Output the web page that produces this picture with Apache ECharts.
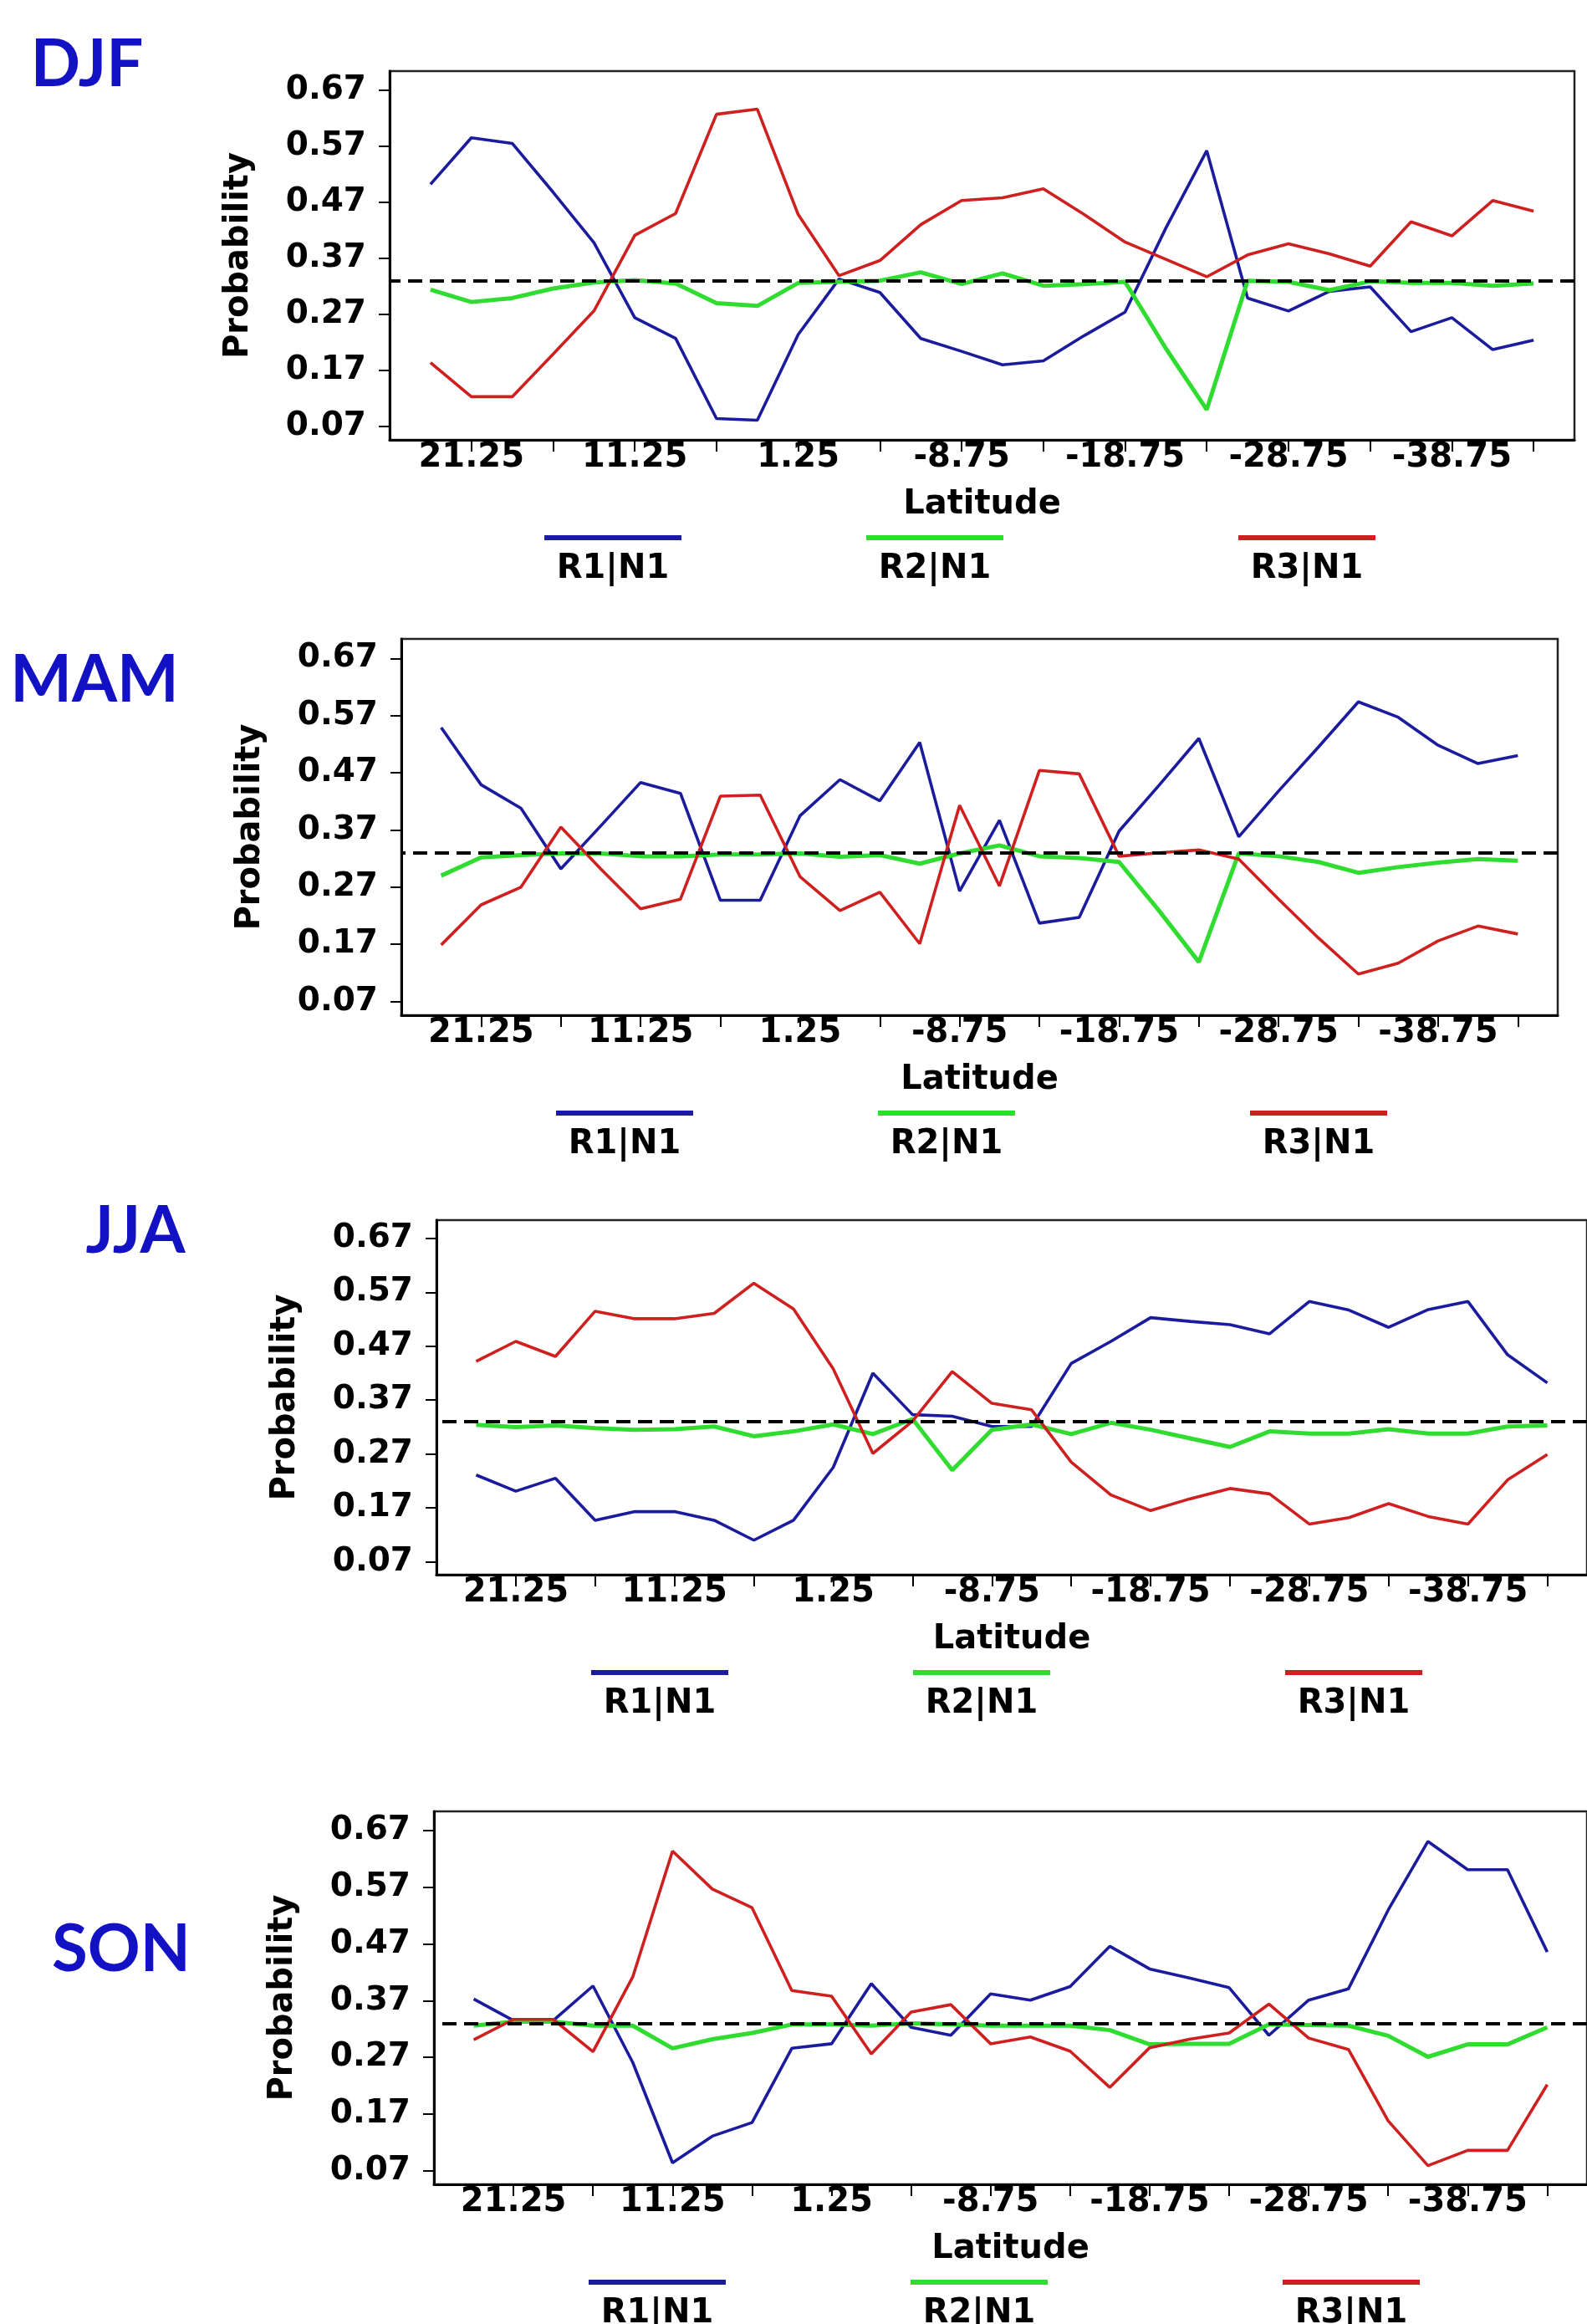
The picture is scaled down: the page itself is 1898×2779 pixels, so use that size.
<!DOCTYPE html>
<html>
<head>
<meta charset="utf-8">
<title>Probability by latitude</title>
<script src="https://cdn.jsdelivr.net/npm/echarts@6.0.0/dist/echarts.min.js"></script>
<style>
  html, body { margin: 0; padding: 0; background: #fff; }
  #chart { width: 1898px; height: 2779px; }
</style>
</head>
<body>
<div id="chart"></div>
<script>
// latitude of each point (north to south)
var latitudes = [23.75, 21.25, 18.75, 16.25, 13.75, 11.25, 8.75, 6.25, 3.75, 1.25, -1.25, -3.75, -6.25, -8.75,
  -11.25, -13.75, -16.25, -18.75, -21.25, -23.75, -26.25, -28.75, -31.25, -33.75, -36.25, -38.75, -41.25, -43.75]
var xTickValues = [21.25, 16.25, 11.25, 6.25, 1.25, -3.75, -8.75, -13.75, -18.75, -23.75, -28.75, -33.75, -38.75, -43.75]
var xLabelValues = [21.25, 11.25, 1.25, -8.75, -18.75, -28.75, -38.75]
var yTickValues = [0.07, 0.17, 0.27, 0.37, 0.47, 0.57, 0.67]
var seriesNames = ['R1|N1', 'R2|N1', 'R3|N1']
var chanceLevel = 1 / 3

var djfR1 = [0.502, 0.585, 0.575, 0.488, 0.398, 0.264, 0.227, 0.084, 0.081, 0.234, 0.333, 0.309, 0.227, 0.204,
  0.180, 0.187, 0.232, 0.274, 0.424, 0.562, 0.299, 0.276, 0.311, 0.319, 0.239, 0.264, 0.207, 0.224]
var djfR2 = [0.314, 0.292, 0.299, 0.316, 0.327, 0.331, 0.325, 0.290, 0.285, 0.326, 0.328, 0.330, 0.345, 0.324,
  0.343, 0.321, 0.324, 0.328, 0.209, 0.100, 0.330, 0.328, 0.313, 0.329, 0.326, 0.326, 0.321, 0.325]
var djfR3 = [0.184, 0.123, 0.123, 0.199, 0.276, 0.411, 0.450, 0.627, 0.636, 0.448, 0.339, 0.366, 0.430, 0.473,
  0.478, 0.494, 0.448, 0.399, 0.368, 0.337, 0.376, 0.396, 0.378, 0.356, 0.435, 0.410, 0.473, 0.454]

var mamR1 = [0.549, 0.449, 0.408, 0.302, 0.377, 0.453, 0.434, 0.247, 0.247, 0.395, 0.458, 0.421, 0.523, 0.263,
  0.387, 0.207, 0.217, 0.368, 0.448, 0.530, 0.358, 0.438, 0.515, 0.594, 0.567, 0.518, 0.486, 0.500]
var mamR2 = [0.290, 0.322, 0.326, 0.329, 0.329, 0.324, 0.324, 0.327, 0.327, 0.329, 0.323, 0.326, 0.311, 0.329,
  0.343, 0.324, 0.321, 0.314, 0.229, 0.139, 0.329, 0.324, 0.314, 0.295, 0.305, 0.313, 0.319, 0.316]
var mamR3 = [0.169, 0.239, 0.270, 0.375, 0.302, 0.232, 0.249, 0.429, 0.431, 0.288, 0.229, 0.261, 0.171, 0.413,
  0.272, 0.474, 0.468, 0.324, 0.330, 0.335, 0.319, 0.249, 0.181, 0.118, 0.137, 0.176, 0.202, 0.188]

var jjaR1 = [0.231, 0.201, 0.225, 0.147, 0.163, 0.163, 0.147, 0.110, 0.147, 0.245, 0.420, 0.343, 0.340, 0.321,
  0.321, 0.438, 0.479, 0.523, 0.516, 0.510, 0.493, 0.553, 0.537, 0.505, 0.538, 0.553, 0.454, 0.402]
var jjaR2 = [0.324, 0.320, 0.323, 0.318, 0.315, 0.316, 0.321, 0.303, 0.312, 0.325, 0.307, 0.335, 0.240, 0.315,
  0.325, 0.307, 0.328, 0.315, 0.299, 0.283, 0.312, 0.308, 0.308, 0.316, 0.308, 0.308, 0.321, 0.323]
var jjaR3 = [0.442, 0.479, 0.451, 0.535, 0.521, 0.521, 0.531, 0.587, 0.539, 0.428, 0.271, 0.331, 0.423, 0.364,
  0.352, 0.255, 0.194, 0.165, 0.187, 0.206, 0.196, 0.140, 0.152, 0.178, 0.154, 0.140, 0.222, 0.269]

var sonR1 = [0.373, 0.335, 0.335, 0.396, 0.261, 0.084, 0.131, 0.155, 0.286, 0.294, 0.400, 0.323, 0.309, 0.382,
  0.371, 0.395, 0.466, 0.426, 0.410, 0.393, 0.309, 0.371, 0.391, 0.530, 0.651, 0.601, 0.601, 0.456]
var sonR2 = [0.326, 0.333, 0.333, 0.326, 0.326, 0.286, 0.302, 0.313, 0.328, 0.328, 0.326, 0.330, 0.328, 0.326,
  0.326, 0.326, 0.318, 0.293, 0.294, 0.294, 0.328, 0.327, 0.326, 0.308, 0.271, 0.293, 0.293, 0.323]
var sonR3 = [0.301, 0.337, 0.337, 0.280, 0.412, 0.634, 0.567, 0.534, 0.388, 0.378, 0.276, 0.350, 0.363, 0.294,
  0.306, 0.281, 0.217, 0.287, 0.302, 0.313, 0.364, 0.304, 0.284, 0.158, 0.079, 0.106, 0.106, 0.222]

// layout of the four stacked panels (px)
var panels = [
  { season: 'DJF', data: [djfR1, djfR2, djfR3], grid: { left: 466, top: 85, width: 1417, height: 441 }, label: [104, 78] },
  { season: 'MAM', data: [mamR1, mamR2, mamR3], grid: { left: 480, top: 764, width: 1383, height: 450 }, label: [113, 814] },
  { season: 'JJA', data: [jjaR1, jjaR2, jjaR3], grid: { left: 522, top: 1459, width: 1399, height: 424 }, label: [162, 1473] },
  { season: 'SON', data: [sonR1, sonR2, sonR3], grid: { left: 519, top: 2166, width: 1404, height: 446 }, label: [145, 2332] }
]

var font = 'DejaVu Sans'
var colors = ['#1b1b9e', '#2fdc2f', '#cf2020']
var lineWidths = [3.6, 5, 3.6]
var legendOffsets = [185, 570, 1015] // from grid left
var legendWidth = 164

var chart = echarts.init(document.getElementById('chart'), null, { renderer: 'canvas' })

var grids = []
var xAxes = []
var yAxes = []
var series = []
var legends = []
var graphics = []

panels.forEach(function(p, i) {
  var bottom = p.grid.top + p.grid.height
  grids.push(Object.assign({ show: true, borderColor: '#222', borderWidth: 2.5 }, p.grid))

  xAxes.push({
    gridIndex: i,
    type: 'value',
    inverse: true,
    min: -46.25,
    max: 26.25,
    name: 'Latitude',
    nameLocation: 'middle',
    nameGap: 58,
    nameTextStyle: { fontFamily: font, fontWeight: 'bold', fontSize: 40, color: '#000' },
    axisLine: { onZero: false, lineStyle: { color: '#000', width: 3 } },
    axisTick: { show: true, length: 14, customValues: xTickValues, lineStyle: { color: '#000', width: 2 } },
    axisLabel: {
      customValues: xLabelValues,
      margin: 2,
      fontFamily: font,
      fontWeight: 'bold',
      fontSize: 40,
      color: '#000',
      formatter: function(v) { return v.toFixed(2) }
    },
    splitLine: { show: false }
  })

  yAxes.push({
    gridIndex: i,
    type: 'value',
    min: 0.046,
    max: 0.704,
    name: 'Probability',
    nameLocation: 'middle',
    nameGap: 160,
    nameTextStyle: { fontFamily: font, fontWeight: 'bold', fontSize: 40, color: '#000' },
    axisLine: { show: true, onZero: false, lineStyle: { color: '#000', width: 3 } },
    axisTick: { show: true, length: 13, customValues: yTickValues, lineStyle: { color: '#000', width: 2 } },
    axisLabel: {
      customValues: yTickValues,
      margin: 28,
      fontFamily: font,
      fontWeight: 'bold',
      fontSize: 39,
      color: '#000',
      formatter: function(v) { return v.toFixed(2) }
    },
    splitLine: { show: false }
  })

  p.data.forEach(function(vals, s) {
    var line = {
      type: 'line',
      name: seriesNames[s],
      xAxisIndex: i,
      yAxisIndex: i,
      data: latitudes.map(function(lat, k) { return [lat, vals[k]] }),
      showSymbol: false,
      symbol: 'none',
      silent: true,
      lineStyle: { color: colors[s], width: lineWidths[s] },
      itemStyle: { color: colors[s] }
    }
    if (s === 2) {
      // 1/3 reference line
      line.markLine = {
        silent: true,
        symbol: 'none',
        label: { show: false },
        lineStyle: { color: '#000', type: [17, 9], width: 4 },
        data: [{ yAxis: chanceLevel }]
      }
    }
    series.push(line)

    legends.push({
      data: [seriesNames[s]],
      left: p.grid.left + legendOffsets[s],
      top: bottom + 114,
      padding: 0,
      itemGap: 0,
      icon: 'rect',
      itemWidth: legendWidth,
      itemHeight: 6,
      selectedMode: false,
      formatter: function() { return '' },
      textStyle: { fontSize: 6 }
    })
    graphics.push({
      type: 'text',
      x: p.grid.left + legendOffsets[s] + legendWidth / 2,
      y: bottom + 155,
      style: {
        text: seriesNames[s],
        font: 'bold 40px "DejaVu Sans"',
        fill: '#000',
        align: 'center',
        verticalAlign: 'middle'
      }
    })
  })

  graphics.push({
    type: 'text',
    x: p.label[0],
    y: p.label[1],
    style: {
      text: p.season,
      font: 'bold 78px Lato',
      fill: '#1212c4',
      align: 'center',
      verticalAlign: 'middle'
    }
  })
})

chart.setOption({
  backgroundColor: '#fff',
  animation: false,
  grid: grids,
  xAxis: xAxes,
  yAxis: yAxes,
  legend: legends,
  graphic: graphics,
  series: series
})
</script>
</body>
</html>
